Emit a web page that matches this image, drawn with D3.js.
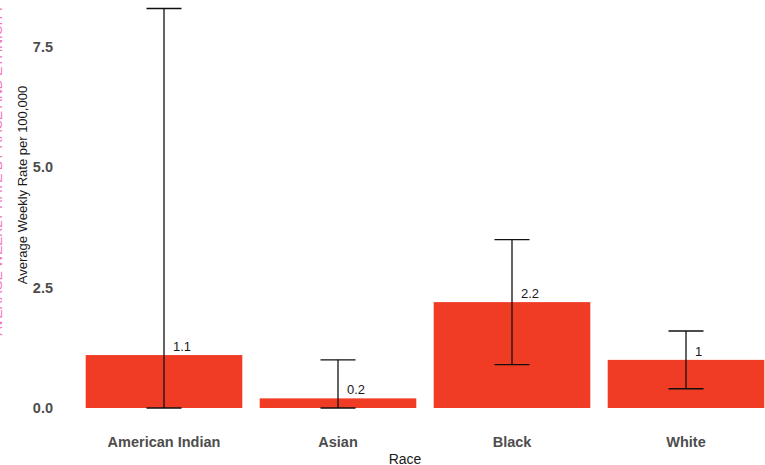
<!DOCTYPE html>
<html><head><meta charset="utf-8">
<script src="https://cdn.jsdelivr.net/npm/d3@7"></script>
<style>body{margin:0;background:#fff}svg{display:block}text{font-family:Arial,"Liberation Sans",sans-serif}</style>
</head><body><svg id="c" width="765" height="465"></svg>
<script>
const categories = ["American Indian", "Asian", "Black", "White"];
const rates = [1.1, 0.2, 2.2, 1.0];
const rateLabels = ["1.1", "0.2", "2.2", "1"];
const lower = [0, 0, 0.9, 0.4];
const upper = [8.3, 1.0, 3.5, 1.6];
const yTicks = [0, 2.5, 5, 7.5];

const svg = d3.select("#c");
const x = d3.scaleBand().domain(categories).range([77, 773]).paddingInner(0.1).paddingOuter(0.05);
const y = d3.scaleLinear().domain([0, 8.4]).range([408, 408 - 8.4 * 48.13]);

// clipped pink rotated text at left edge
svg.append("text").attr("transform", "translate(1.8,170) rotate(-90)")
  .attr("text-anchor", "middle").attr("fill", "#f472b6").attr("font-size", 13.5)
  .text("AVERAGE WEEKLY RATE BY RACE AND ETHNICITY");

const data = categories.map((c, i) => ({c, v: rates[i], l: lower[i], u: upper[i], lab: rateLabels[i]}));

svg.selectAll("rect.bar").data(data).join("rect").attr("class", "bar")
  .attr("x", d => x(d.c)).attr("width", x.bandwidth())
  .attr("y", d => y(d.v)).attr("height", d => y(0) - y(d.v))
  .attr("fill", "#F03C24");

const hw = 17.5;
const eb = svg.selectAll("g.eb").data(data).join("g").attr("class", "eb")
  .attr("stroke", "#111").attr("stroke-width", 1.3);
eb.append("line").attr("x1", d => x(d.c) + x.bandwidth()/2).attr("x2", d => x(d.c) + x.bandwidth()/2)
  .attr("y1", d => y(d.l)).attr("y2", d => y(d.u));
eb.append("line").attr("x1", d => x(d.c) + x.bandwidth()/2 - hw).attr("x2", d => x(d.c) + x.bandwidth()/2 + hw)
  .attr("y1", d => y(d.l)).attr("y2", d => y(d.l));
eb.append("line").attr("x1", d => x(d.c) + x.bandwidth()/2 - hw).attr("x2", d => x(d.c) + x.bandwidth()/2 + hw)
  .attr("y1", d => y(d.u)).attr("y2", d => y(d.u));

svg.selectAll("text.vl").data(data).join("text").attr("class", "vl")
  .attr("x", d => x(d.c) + x.bandwidth()/2 + 9).attr("y", d => y(d.v) - 4)
  .attr("font-size", 13).attr("fill", "#1a1a1a").text(d => d.lab);

// y axis
const ya = svg.append("g").attr("transform", "translate(58,0)")
  .call(d3.axisLeft(y).tickValues(yTicks).tickFormat(d3.format(".1f")).tickSize(0).tickPadding(5));
ya.select(".domain").remove();
ya.selectAll("text").attr("font-size", 14.5).attr("font-weight", "bold").attr("fill", "#4d4d4d")
  .attr("font-family", "Arial,'Liberation Sans',sans-serif");

// x axis
const xa = svg.append("g").attr("transform", "translate(0,432)")
  .call(d3.axisBottom(x).tickSize(0).tickPadding(5));
xa.select(".domain").remove();
xa.selectAll("text").attr("font-size", 14.5).attr("font-weight", "bold").attr("fill", "#4d4d4d")
  .attr("font-family", "Arial,'Liberation Sans',sans-serif");

svg.append("text").attr("x", 405).attr("y", 464).attr("text-anchor", "middle")
  .attr("font-size", 14).attr("fill", "#1a1a1a").text("Race");
svg.append("text").attr("transform", "translate(27,185) rotate(-90)").attr("text-anchor", "middle")
  .attr("font-size", 13).attr("fill", "#1a1a1a").text("Average Weekly Rate per 100,000");
</script></body></html>
